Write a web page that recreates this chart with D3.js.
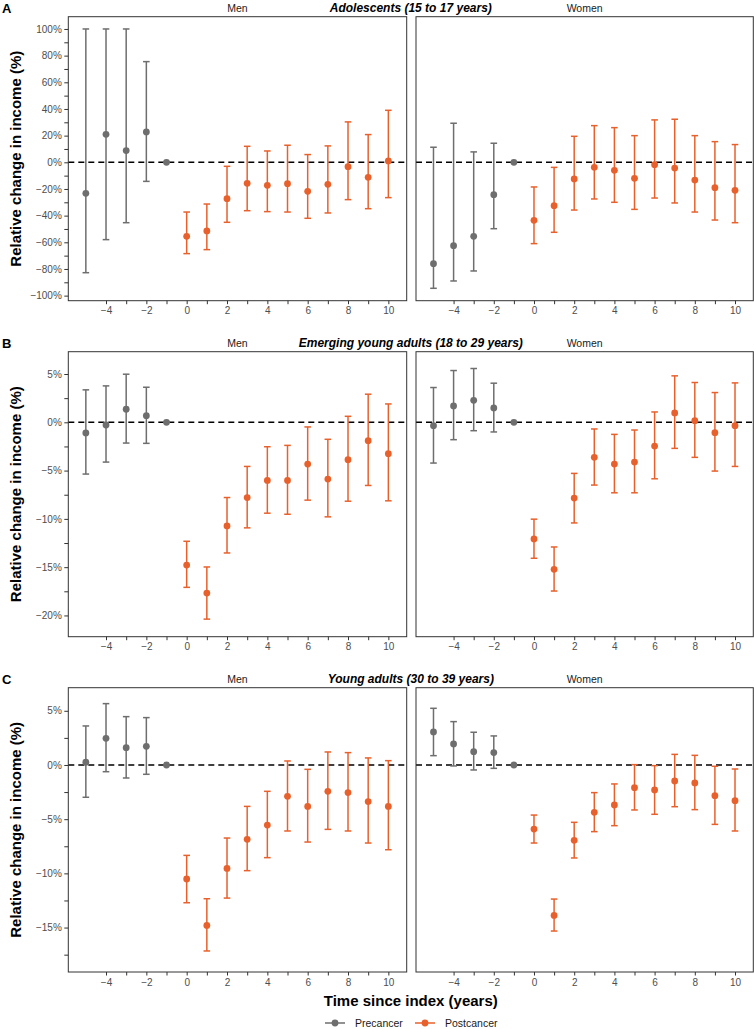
<!DOCTYPE html>
<html>
<head>
<meta charset="utf-8">
<script src="https://cdn.jsdelivr.net/npm/d3@7"></script>
<style>
  body { margin: 0; background: #fff; }
  svg { display: block; font-family: "Liberation Sans", Arial, Helvetica, sans-serif; }
</style>
</head>
<body>
<div id="chart"></div>
<script>
// years relative to cancer index
var years = [-5, -4, -3, -2, -1, 0, 1, 2, 3, 4, 5, 6, 7, 8, 9, 10];

// A: adolescents (15 to 17)
var adolMenEst = [-23.3, 21.0, 8.8, 22.8, 0, -55.5, -51.5, -27.3, -15.8, -17.3, -16.0, -21.8, -16.5, -3.3, -11.3, 1.0];
var adolMenLo  = [-82.8, -58.0, -45.3, -14.3, null, -68.5, -65.5, -45.0, -36.3, -37.0, -37.3, -42.0, -38.0, -28.0, -34.8, -26.5];
var adolMenHi  = [100, 100, 100, 75.5, null, -37.3, -31.3, -3.0, 12.0, 8.5, 12.8, 5.8, 12.3, 30.3, 20.8, 39.0];
var adolWomenEst = [-76.0, -62.5, -55.5, -24.3, 0, -43.5, -32.5, -12.5, -3.8, -6.0, -12.0, -1.8, -4.3, -13.3, -19.0, -21.0];
var adolWomenLo  = [-94.5, -89.0, -81.5, -49.8, null, -61.0, -52.5, -35.8, -27.5, -30.0, -35.3, -26.8, -30.5, -37.3, -43.3, -45.3];
var adolWomenHi  = [11.3, 29.3, 7.8, 14.3, null, -18.5, -3.8, 19.5, 27.5, 26.0, 20.0, 31.8, 32.3, 20.0, 15.5, 13.3];

// B: emerging young adults (18 to 29)
var emergMenEst = [-1.10, -0.28, 1.35, 0.69, 0, -14.78, -17.68, -10.73, -7.79, -6.02, -6.02, -4.33, -5.88, -3.88, -1.90, -3.25];
var emergMenLo  = [-5.36, -4.12, -2.15, -2.18, null, -17.09, -20.38, -13.53, -10.93, -9.41, -9.52, -8.06, -9.79, -8.17, -6.54, -8.13];
var emergMenHi  = [3.36, 3.77, 4.98, 3.63, null, -12.32, -14.98, -7.79, -4.57, -2.53, -2.39, -0.48, -1.76, 0.62, 2.91, 1.90];
var emergWomenEst = [-0.35, 1.70, 2.28, 1.49, 0, -12.08, -15.22, -7.85, -3.63, -4.33, -4.12, -2.46, 0.97, 0.17, -1.07, -0.35];
var emergWomenLo  = [-4.22, -1.80, -0.87, -1.00, null, -14.08, -17.47, -10.42, -6.50, -7.30, -7.30, -5.85, -2.70, -3.63, -5.05, -4.57];
var emergWomenHi  = [3.60, 5.36, 5.57, 4.05, null, -10.03, -12.91, -5.29, -0.69, -1.25, -0.80, 1.07, 4.81, 4.12, 3.08, 4.08];

// C: young adults (30 to 39)
var youngMenEst = [0.25, 2.46, 1.60, 1.72, 0, -10.52, -14.80, -9.54, -6.86, -5.54, -2.89, -3.82, -2.43, -2.55, -3.38, -3.82];
var youngMenLo  = [-2.98, -0.62, -1.20, -0.86, null, -12.71, -17.16, -12.28, -9.75, -8.55, -6.09, -7.11, -5.94, -6.09, -7.20, -7.82];
var youngMenHi  = [3.60, 5.66, 4.46, 4.37, null, -8.34, -12.34, -6.74, -3.82, -2.43, 0.37, -0.40, 1.20, 1.14, 0.65, 0.40];
var youngWomenEst = [3.05, 1.94, 1.23, 1.14, 0, -5.91, -13.88, -6.95, -4.37, -3.69, -2.09, -2.31, -1.48, -1.66, -2.83, -3.29];
var youngWomenLo  = [0.86, -0.09, -0.46, -0.31, null, -7.20, -15.32, -8.58, -6.15, -5.60, -4.15, -4.55, -3.85, -4.12, -5.48, -6.09];
var youngWomenHi  = [5.23, 4.00, 3.02, 2.68, null, -4.62, -12.37, -5.29, -2.55, -1.75, 0.03, -0.06, 0.98, 0.89, -0.12, -0.37];

var rowLetters = ["A", "B", "C"];
var rowTitles = ["Adolescents (15 to 17 years)", "Emerging young adults (18 to 29 years)", "Young adults (30 to 39 years)"];
var sexLabels = ["Men", "Women"];
var xTickLabels = [-4, -2, 0, 2, 4, 6, 8, 10];
var xMinorTicks = [-3, -1, 1, 3, 5, 7, 9];
var yTicksA = [-100, -80, -60, -40, -20, 0, 20, 40, 60, 80, 100];
var yTicksB = [-20, -15, -10, -5, 0, 5];
var yTicksC = [-15, -10, -5, 0, 5];
var legendLabels = ["Precancer", "Postcancer"];

var series = [
  [[adolMenEst, adolMenLo, adolMenHi], [adolWomenEst, adolWomenLo, adolWomenHi]],
  [[emergMenEst, emergMenLo, emergMenHi], [emergWomenEst, emergWomenLo, emergWomenHi]],
  [[youngMenEst, youngMenLo, youngMenHi], [youngWomenEst, youngWomenLo, youngWomenHi]]
];

// layout
var width = 754, height = 1029;
var colors = {pre: "#6e6e6e", post: "#e8612c"};
var rows = [
  {top: 16.7, bottom: 300.7, domain: [-103.8, 109.2], ticks: yTicksA, minor: 10},
  {top: 351.7, bottom: 636.7, domain: [-22.2, 7.31], ticks: yTicksB, minor: 2.5},
  {top: 687.7, bottom: 972, domain: [-19.1, 7.13], ticks: yTicksC, minor: 2.5}
];
var cols = [[68.3, 406.7], [416, 753.3]];
var xDomain = [-5.87, 10.91];
var pctFmt = d => (d < 0 ? "\u2212" : "") + Math.abs(d) + "%";

var svg = d3.select("#chart").append("svg")
    .attr("width", width)
    .attr("height", height);

rows.forEach(function(row, ri){
  var y = d3.scaleLinear().domain(row.domain).range([row.bottom, row.top]);

  // row letter + title
  svg.append("text")
      .attr("x", 2).attr("y", row.top - 4)
      .attr("font-size", "13px").attr("font-weight", "bold")
      .text(rowLetters[ri]);
  svg.append("text")
      .attr("x", (cols[0][0] + cols[1][1]) / 2).attr("y", row.top - 4.5)
      .attr("text-anchor", "middle")
      .attr("font-size", "12px").attr("font-weight", "bold").attr("font-style", "italic")
      .text(rowTitles[ri]);

  cols.forEach(function(c, ci){
    var x = d3.scaleLinear().domain(xDomain).range(c);
    var g = svg.append("g");

    // strip label
    g.append("text")
        .attr("x", (c[0] + c[1]) / 2).attr("y", row.top - 4.5)
        .attr("text-anchor", "middle")
        .attr("font-size", "10.5px").attr("fill", "#1a1a1a")
        .text(sexLabels[ci]);

    // zero reference
    g.append("line")
        .attr("x1", c[0]).attr("x2", c[1])
        .attr("y1", y(0)).attr("y2", y(0))
        .attr("stroke", "#000").attr("stroke-width", 1.4)
        .attr("stroke-dasharray", "6 4");

    var est = series[ri][ci][0], lo = series[ri][ci][1], hi = series[ri][ci][2];
    var data = years.map((yr, i) => ({year: yr, est: est[i], lo: lo[i], hi: hi[i]}));
    var col = d => d.year < 0 ? colors.pre : colors.post;
    var bars = data.filter(d => d.lo !== null);

    g.selectAll(".eb").data(bars).join("line")
        .attr("x1", d => x(d.year)).attr("x2", d => x(d.year))
        .attr("y1", d => y(d.lo)).attr("y2", d => y(d.hi))
        .attr("stroke", col).attr("stroke-width", 1.5);
    ["lo", "hi"].forEach(function(k){
      g.selectAll(".cap" + k).data(bars).join("line")
          .attr("x1", d => x(d.year) - 3.3).attr("x2", d => x(d.year) + 3.3)
          .attr("y1", d => y(d[k])).attr("y2", d => y(d[k]))
          .attr("stroke", col).attr("stroke-width", 1.5);
    });
    g.selectAll("circle").data(data).join("circle")
        .attr("cx", d => x(d.year)).attr("cy", d => y(d.est))
        .attr("r", 3.4)
        .attr("fill", col);

    // panel border
    g.append("rect")
        .attr("x", c[0]).attr("y", row.top)
        .attr("width", c[1] - c[0]).attr("height", row.bottom - row.top)
        .attr("fill", "none").attr("stroke", "#333").attr("stroke-width", 1);

    // x axis
    var xa = g.append("g").attr("transform", "translate(0," + row.bottom + ")");
    xa.call(d3.axisBottom(x).tickValues(xTickLabels).tickSize(3.5).tickPadding(3));
    xa.append("g").call(d3.axisBottom(x).tickValues(xMinorTicks).tickSize(3.5).tickFormat(""));
    xa.selectAll(".domain").remove();
    xa.selectAll("line").attr("stroke", "#333");
    xa.selectAll("text").attr("font-size", "10px").attr("fill", "#4d4d4d")
        .attr("font-family", "Liberation Sans, Arial, sans-serif");

    // y axis only on men column
    if (ci === 0) {
      var minor = d3.range(Math.ceil(row.domain[0] / row.minor) * row.minor, row.domain[1], row.minor)
          .filter(v => row.ticks.indexOf(v) < 0);
      var ya = g.append("g").attr("transform", "translate(" + c[0] + ",0)");
      ya.call(d3.axisLeft(y).tickValues(row.ticks).tickFormat(pctFmt).tickSize(4).tickPadding(2.5));
      ya.append("g").call(d3.axisLeft(y).tickValues(minor).tickSize(4).tickFormat(""));
      ya.selectAll(".domain").remove();
      ya.selectAll("line").attr("stroke", "#333");
      ya.selectAll("text").attr("font-size", "10px").attr("fill", "#4d4d4d")
          .attr("font-family", "Liberation Sans, Arial, sans-serif");
    }
  });

  // y title
  svg.append("text")
      .attr("transform", "translate(21," + ((row.top + row.bottom) / 2) + ") rotate(-90)")
      .attr("text-anchor", "middle")
      .attr("font-size", "15px").attr("font-weight", "bold")
      .text("Relative change in income (%)");
});

// x title
svg.append("text")
    .attr("x", (cols[0][0] + cols[1][1]) / 2).attr("y", 1006)
    .attr("text-anchor", "middle")
    .attr("font-size", "15px").attr("font-weight", "bold")
    .text("Time since index (years)");

// legend
var legend = svg.append("g").attr("transform", "translate(325,1023)");
var lx = [0, 90];
legendLabels.forEach(function(lab, i){
  var c = i === 0 ? colors.pre : colors.post;
  var item = legend.append("g").attr("transform", "translate(" + lx[i] + ",0)");
  item.append("line").attr("x1", 0).attr("x2", 20).attr("stroke", c).attr("stroke-width", 1.5);
  item.append("circle").attr("cx", 10).attr("r", 3.4).attr("fill", c);
  item.append("text").attr("x", 30).attr("y", 0).attr("dy", "0.35em")
      .attr("font-size", "10.5px").attr("fill", "#1a1a1a").text(lab);
});
</script>
</body>
</html>
